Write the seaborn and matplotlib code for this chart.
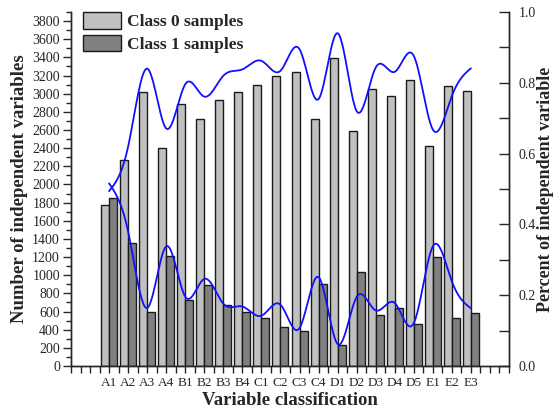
import numpy as np
import pandas as pd
import matplotlib
matplotlib.use("Agg")
import matplotlib.pyplot as plt
from matplotlib.ticker import MultipleLocator
import seaborn as sns

# ---------------- data ----------------
categories = ["A1", "A2", "A3", "A4", "B1", "B2", "B3", "B4", "C1", "C2",
              "C3", "C4", "D1", "D2", "D3", "D4", "D5", "E1", "E2", "E3"]
class0_counts = [1770, 2265, 3020, 2405, 2891, 2726, 2935, 3020, 3094, 3190,
                 3234, 2718, 3390, 2586, 3057, 2976, 3153, 2420, 3087, 3032]
class1_counts = [1850, 1356, 600, 1208, 729, 887, 674, 593, 527, 428,
                 390, 906, 232, 1031, 567, 637, 464, 1197, 534, 586]
class0_percent = [0.494, 0.620, 0.840, 0.671, 0.796, 0.761, 0.820, 0.838, 0.862, 0.834,
                  0.895, 0.754, 0.940, 0.720, 0.843, 0.831, 0.876, 0.668, 0.763, 0.841]
class1_percent = [0.516, 0.380, 0.164, 0.338, 0.196, 0.246, 0.176, 0.168, 0.142, 0.173,
                  0.107, 0.251, 0.062, 0.195, 0.157, 0.178, 0.121, 0.338, 0.239, 0.163]
series_names = ["Class 0 samples", "Class 1 samples"]
left_ticks = list(range(0, 3801, 200))
right_ticks = [0.0, 0.2, 0.4, 0.6, 0.8, 1.0]

# ---------------- styling ----------------
sns.set_theme(style="ticks")
plt.rcParams["font.family"] = ["Liberation Serif", "DejaVu Serif"]
plt.rcParams["axes.linewidth"] = 1.0

df = pd.DataFrame({
    "category": categories * 2,
    "count": class0_counts + class1_counts,
    "series": [series_names[0]] * len(categories) + [series_names[1]] * len(categories),
})


def natural_spline(x, y, xs):
    x = np.asarray(x, float)
    y = np.asarray(y, float)
    n = len(x)
    h = np.diff(x)
    A = np.zeros((n, n))
    b = np.zeros(n)
    A[0, 0] = 1.0
    A[-1, -1] = 1.0
    for i in range(1, n - 1):
        A[i, i - 1] = h[i - 1]
        A[i, i] = 2 * (h[i - 1] + h[i])
        A[i, i + 1] = h[i]
        b[i] = 6 * ((y[i + 1] - y[i]) / h[i] - (y[i] - y[i - 1]) / h[i - 1])
    M = np.linalg.solve(A, b)
    idx = np.clip(np.searchsorted(x, xs) - 1, 0, n - 2)
    x0, x1 = x[idx], x[idx + 1]
    hh = x1 - x0
    t0 = x1 - xs
    t1 = xs - x0
    return (M[idx] * t0 ** 3 / (6 * hh) + M[idx + 1] * t1 ** 3 / (6 * hh)
            + (y[idx] / hh - M[idx] * hh / 6) * t0
            + (y[idx + 1] / hh - M[idx + 1] * hh / 6) * t1)


fig = plt.figure(figsize=(5.57, 4.13), dpi=100)
fig.patch.set_facecolor("white")
ax = fig.add_axes([71 / 557, 47 / 413, 438 / 557, 354 / 413])

sns.barplot(data=df, x="category", y="count", hue="series", order=categories,
            hue_order=series_names, palette=["#c0c0c0", "#808080"],
            width=0.84, edgecolor="#1a1a1a", linewidth=1.0, saturation=1,
            errorbar=None, ax=ax)

ax.set_xlim(-2, 21)
ax.set_ylim(0, 3900)
xt = np.arange(-2, 21.01, 0.5)
lab_map = {float(i): c for i, c in enumerate(categories)}
ax.set_xticks(xt)
ax.set_xticklabels([lab_map.get(float(v), "") for v in xt], fontsize=9.5)
ax.set_yticks(left_ticks)
ax.set_yticklabels([str(v) for v in left_ticks], fontsize=10)
ax.yaxis.set_minor_locator(MultipleLocator(100))
ax.tick_params(axis="x", direction="out", length=5, width=1, pad=3)
ax.tick_params(axis="y", which="major", direction="out", length=6, width=1, pad=2)
ax.tick_params(axis="y", which="minor", direction="out", length=3.5, width=1)
ax.spines["top"].set_visible(False)
ax.set_xlabel("Variable classification", fontsize=13.5, fontweight="bold", labelpad=2)
ax.set_ylabel("Number of independent variables", fontsize=13.5, fontweight="bold", labelpad=3)

handles, labels = ax.get_legend_handles_labels()
ax.legend(handles, labels, loc="upper left", bbox_to_anchor=(0.027, 1.0),
          frameon=False, prop={"weight": "bold", "size": 12.5},
          handlelength=2.2, handleheight=1.1, handletextpad=0.35,
          labelspacing=0.25, borderpad=0, borderaxespad=0)

ax2 = ax.twinx()
xs = np.linspace(0, len(categories) - 1, 500)
pos = np.arange(len(categories))
sns.lineplot(x=xs, y=natural_spline(pos, class0_percent, xs), ax=ax2,
             color="#1010ff", linewidth=1.3)
sns.lineplot(x=xs, y=natural_spline(pos, class1_percent, xs), ax=ax2,
             color="#1010ff", linewidth=1.3)
ax2.set_xlim(-2, 21)
ax2.set_ylim(0, 1.0)
ax2.set_yticks(right_ticks)
ax2.set_yticklabels([f"{v:.1f}" for v in right_ticks], fontsize=10)
ax2.yaxis.set_minor_locator(MultipleLocator(0.1))
ax2.tick_params(axis="y", which="both", direction="in", length=7, width=1, pad=7)
ax2.spines["top"].set_visible(False)
ax2.set_ylabel("Percent of independent variable", fontsize=13, fontweight="bold",
               labelpad=1)

fig.savefig("out.png", dpi=100)
